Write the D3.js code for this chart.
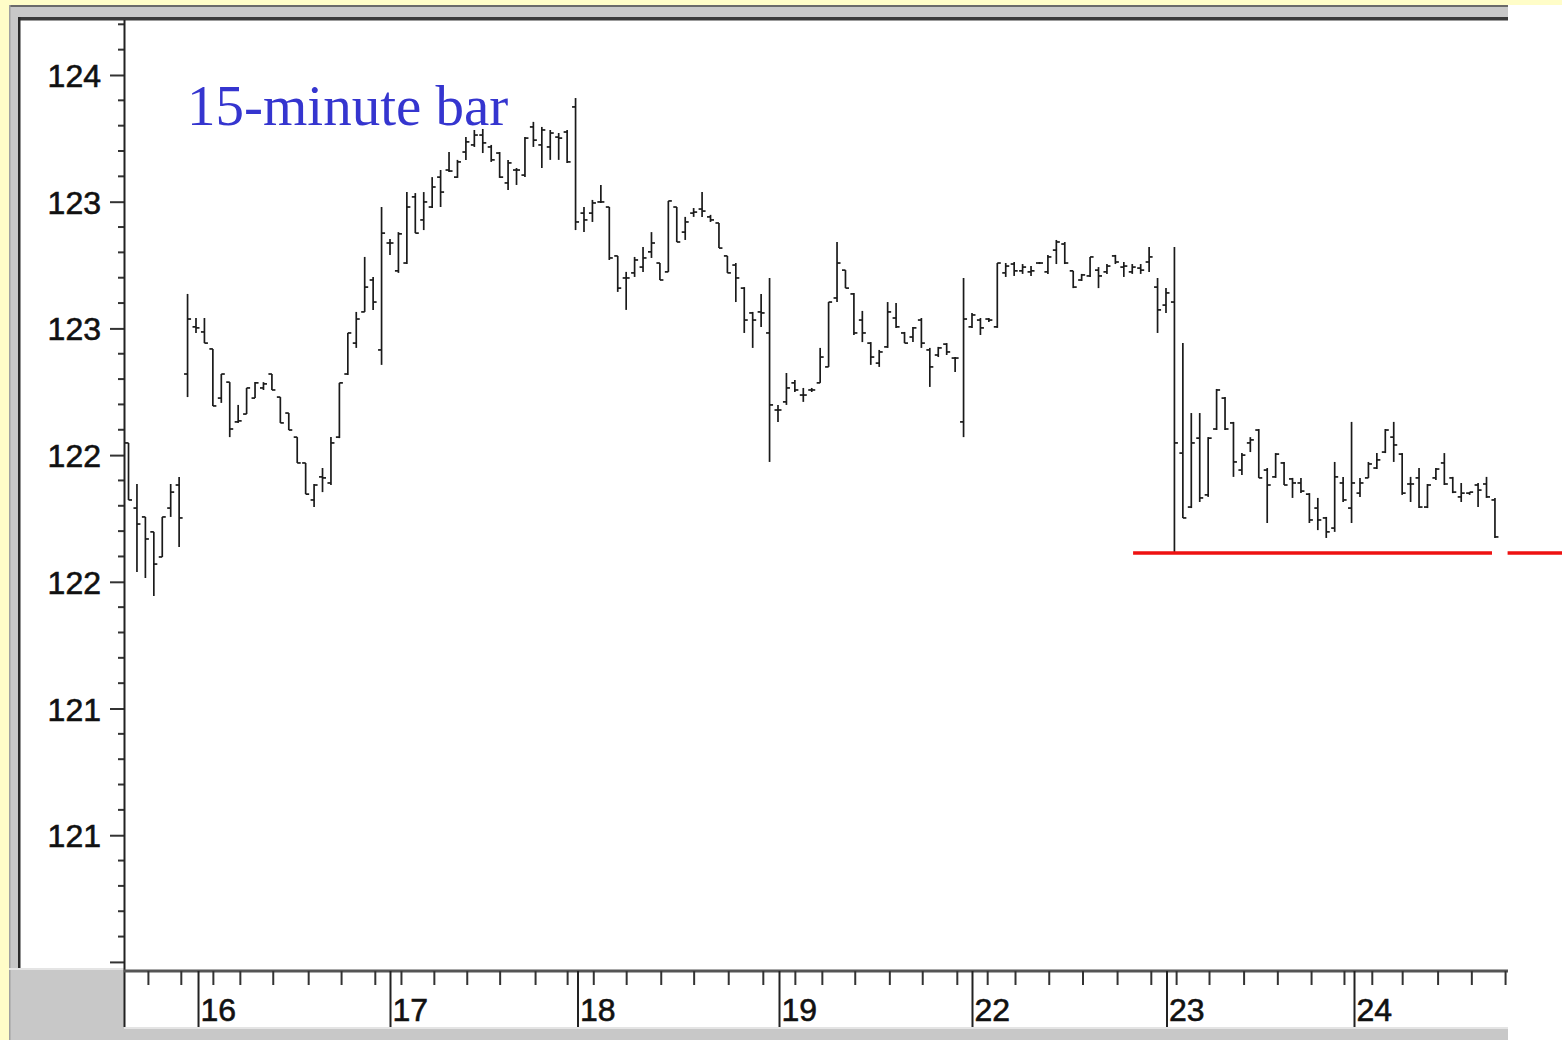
<!DOCTYPE html>
<html>
<head>
<meta charset="utf-8">
<script src="https://cdn.jsdelivr.net/npm/d3@7"></script>
<style>
  html, body { margin: 0; padding: 0; background: #ffffff; }
  svg { display: block; }
</style>
</head>
<body>
<svg id="chart" width="1562" height="1040"></svg>
<script>
// ---- Data: 15-minute OHLC bars, bar number 1..163 ----
const opens = [
  122.548,122.291,122.256,122.197,122.098,122.291,122.382,122.820,123.006,122.986,
  122.919,122.725,122.788,122.631,122.662,122.725,122.765,122.820,122.729,122.666,
  122.571,122.469,122.323,122.414,122.390,122.571,122.820,122.942,123.065,123.191,
  122.915,123.337,123.227,123.258,123.519,123.428,123.479,123.597,123.625,123.597,
  123.696,123.724,123.763,123.716,123.692,123.574,123.625,123.605,123.795,123.724,
  123.716,123.755,123.775,123.874,123.455,123.455,123.499,123.479,123.286,123.199,
  123.219,123.242,123.302,123.258,123.223,123.479,123.380,123.455,123.471,123.440,
  123.416,123.286,123.250,123.159,123.061,123.065,122.982,122.678,122.710,122.785,
  122.737,122.757,122.785,122.848,123.120,123.230,123.136,123.033,122.942,122.863,
  122.927,123.041,122.982,122.966,123.033,122.915,122.895,122.938,122.883,122.631,
  123.006,123.033,123.037,123.006,123.219,123.254,123.227,123.223,123.258,123.223,
  123.309,123.333,123.227,123.191,123.207,123.230,123.223,123.286,123.242,123.223,
  123.238,123.262,123.163,123.092,123.104,122.508,122.295,122.567,122.343,122.603,
  122.725,122.627,122.441,122.548,122.599,122.441,122.414,122.469,122.406,122.390,
  122.346,122.291,122.252,122.212,122.390,122.291,122.350,122.410,122.449,122.512,
  122.571,122.504,122.386,122.410,122.295,122.410,122.469,122.410,122.335,122.350,
  122.382,122.386,122.323
];
const highs = [
  122.548,122.386,122.256,122.197,122.256,122.386,122.414,123.136,123.041,123.041,
  122.919,122.820,122.788,122.698,122.765,122.788,122.788,122.820,122.729,122.666,
  122.571,122.469,122.386,122.449,122.571,122.785,122.982,123.065,123.282,123.203,
  123.479,123.353,123.380,123.538,123.534,123.538,123.597,123.625,123.696,123.665,
  123.755,123.783,123.787,123.724,123.696,123.665,123.633,123.755,123.815,123.795,
  123.783,123.771,123.783,123.909,123.479,123.507,123.566,123.479,123.286,123.223,
  123.282,123.321,123.380,123.258,123.503,123.479,123.440,123.475,123.538,123.448,
  123.416,123.286,123.258,123.163,123.065,123.136,123.199,122.698,122.824,122.796,
  122.765,122.765,122.923,123.104,123.341,123.230,123.140,123.069,122.946,122.915,
  123.104,123.100,122.986,123.006,123.041,122.923,122.927,122.942,122.887,123.199,
  123.061,123.041,123.041,123.258,123.258,123.262,123.254,123.246,123.262,123.290,
  123.349,123.341,123.227,123.215,123.282,123.242,123.254,123.290,123.262,123.254,
  123.254,123.321,123.199,123.159,123.321,122.942,122.666,122.666,122.571,122.761,
  122.729,122.631,122.508,122.571,122.603,122.449,122.508,122.473,122.410,122.410,
  122.350,122.331,122.256,122.473,122.414,122.631,122.410,122.473,122.508,122.603,
  122.631,122.508,122.414,122.449,122.386,122.449,122.508,122.414,122.390,122.354,
  122.390,122.414,122.331
];
const lows = [
  122.323,122.039,122.015,121.944,122.098,122.256,122.137,122.729,122.982,122.942,
  122.694,122.706,122.571,122.627,122.662,122.725,122.757,122.757,122.627,122.599,
  122.469,122.346,122.295,122.354,122.382,122.567,122.816,122.923,123.065,123.073,
  122.856,123.290,123.219,123.254,123.376,123.388,123.475,123.479,123.617,123.594,
  123.665,123.716,123.692,123.657,123.594,123.546,123.566,123.597,123.716,123.633,
  123.665,123.665,123.653,123.388,123.380,123.420,123.495,123.270,123.144,123.073,
  123.203,123.223,123.278,123.191,123.223,123.341,123.349,123.440,123.440,123.420,
  123.317,123.219,123.104,122.982,122.923,123.006,122.473,122.631,122.698,122.749,
  122.710,122.749,122.785,122.848,123.104,123.159,122.974,122.946,122.856,122.848,
  122.923,123.002,122.942,122.946,122.923,122.769,122.887,122.895,122.828,122.571,
  123.002,122.974,123.025,123.002,123.203,123.207,123.215,123.207,123.254,123.215,
  123.254,123.254,123.159,123.187,123.203,123.159,123.215,123.254,123.203,123.215,
  123.215,123.223,122.982,123.061,122.114,122.252,122.291,122.315,122.335,122.599,
  122.599,122.414,122.421,122.512,122.410,122.232,122.410,122.382,122.331,122.350,
  122.232,122.204,122.173,122.197,122.315,122.232,122.335,122.410,122.445,122.508,
  122.473,122.343,122.315,122.291,122.291,122.402,122.382,122.350,122.315,122.343,
  122.295,122.331,122.173
];
const closes = [
  122.323,122.228,122.169,122.070,122.256,122.354,122.252,123.037,123.002,122.942,
  122.694,122.820,122.603,122.635,122.765,122.785,122.781,122.757,122.627,122.599,
  122.469,122.346,122.382,122.410,122.548,122.785,122.982,123.037,123.163,123.104,
  123.376,123.337,123.373,123.479,123.376,123.499,123.558,123.538,123.621,123.657,
  123.736,123.763,123.732,123.665,123.597,123.653,123.625,123.751,123.743,123.783,
  123.771,123.751,123.657,123.420,123.428,123.495,123.499,123.278,123.159,123.199,
  123.270,123.278,123.337,123.191,123.503,123.341,123.420,123.459,123.463,123.428,
  123.317,123.219,123.199,123.033,123.033,123.061,122.698,122.678,122.765,122.757,
  122.737,122.757,122.887,123.104,123.258,123.159,122.982,122.982,122.887,122.907,
  123.065,123.006,122.942,123.002,122.942,122.848,122.923,122.907,122.883,123.037,
  123.053,123.002,123.033,123.258,123.246,123.227,123.242,123.227,123.258,123.282,
  123.341,123.258,123.163,123.211,123.282,123.207,123.246,123.262,123.246,123.242,
  123.230,123.282,123.073,123.140,122.548,122.252,122.548,122.331,122.567,122.757,
  122.603,122.473,122.500,122.560,122.410,122.382,122.504,122.382,122.390,122.358,
  122.244,122.244,122.197,122.414,122.323,122.390,122.390,122.465,122.481,122.599,
  122.540,122.350,122.386,122.295,122.382,122.445,122.386,122.354,122.350,122.354,
  122.362,122.335,122.177
];

// Session boundaries (in bar-number units) and their day labels
const days = ["16", "17", "18", "19", "22", "23", "24"];
const dayStarts = [9.24, 32.0, 54.23, 78.12, 101.0, 124.06, 146.29];

// Hourly tick marks (bar-number units)
const hourTicks = [
  3.3, 7.2, 11, 14.2, 18.1, 22.3, 26.2, 30.2, 33.3, 37.2, 41.1, 45, 49.2, 53,
  56.1, 60, 64.1, 68, 72.1, 76.2, 80, 83.2, 87.1, 91.2, 95.1, 99.2, 102.8,
  106.1, 110.1, 114.1, 118.2, 122.2, 125.2, 129.1, 133.2, 137.2, 141.2, 145.1,
  148.4, 152, 156.2, 160.2, 164.2
];

// Price axis: major ticks and their (truncated) labels
const yTickValues = [124, 123.5, 123, 122.5, 122, 121.5, 121, 120.5];
const yTickLabels = ["124", "123", "123", "122", "122", "121", "121", ""];

// Support level at the low of the bar-125 sell-off
const supportLevel = 122.114;
const supportSpans = [[120.1, 162.65], [164.5, 171]];

const titleText = "15-minute bar";

// ---- Drawing ----
const bars = opens.map((o, i) => ({
  n: i + 1, open: o, high: highs[i], low: lows[i], close: closes[i]
}));

const svg = d3.select("#chart");
const W = 1562, H = 1040;

// Window frame: pale yellow surround, grey bevel and white panel
svg.append("rect").attr("width", W).attr("height", H).attr("fill", "#ffffff");
svg.append("rect").attr("x", 0).attr("y", 0).attr("width", W).attr("height", 5).attr("fill", "#fffdc8");
svg.append("rect").attr("x", 0).attr("y", 0).attr("width", 9).attr("height", H).attr("fill", "#fffdc8");
svg.append("rect").attr("x", 9).attr("y", 5).attr("width", 1499).attr("height", H - 5).attr("fill", "#c8c8c8");
svg.append("rect").attr("x", 9).attr("y", 5).attr("width", 1499).attr("height", 2).attr("fill", "#6a6a6a");
svg.append("rect").attr("x", 9).attr("y", 5).attr("width", 1.5).attr("height", H - 5).attr("fill", "#a0a0a0");
svg.append("rect").attr("x", 20).attr("y", 20).attr("width", 1488).attr("height", 948).attr("fill", "#ffffff");
svg.append("rect").attr("x", 124).attr("y", 968).attr("width", 1384).attr("height", 59).attr("fill", "#ffffff");
svg.append("rect").attr("x", 9).attr("y", 968).attr("width", 115).attr("height", 2).attr("fill", "#e4e4e4");
svg.append("rect").attr("x", 124).attr("y", 1027).attr("width", 1384).attr("height", 2).attr("fill", "#e4e4e4");
// dark inner border (top and left)
svg.append("rect").attr("x", 18).attr("y", 17).attr("width", 1490).attr("height", 3.5).attr("fill", "#3a3a3a");
svg.append("rect").attr("x", 18).attr("y", 17).attr("width", 2.5).attr("height", 951).attr("fill", "#2a2a2a");

// Scales
const x = d3.scaleLinear().domain([0.5, 164.5]).range([124.3, 1507.6]);
const y = d3.scaleLinear().domain([120.476, 124.217]).range([968, 20]);

const labelFont = "'Liberation Sans', Arial, sans-serif";

// Price axis
const yAxis = svg.append("g").attr("transform", "translate(124,0)")
  .call(d3.axisLeft(y).tickValues(yTickValues)
    .tickFormat((d, i) => yTickLabels[i]).tickSize(14).tickPadding(9));
yAxis.select(".domain").remove();
yAxis.selectAll(".tick line").attr("stroke", "#333").attr("stroke-width", 2);
yAxis.selectAll(".tick text")
  .attr("font-family", labelFont)
  .attr("font-size", 32).attr("fill", "#111")
  .attr("stroke", "#111").attr("stroke-width", 0.6)
  .attr("dy", "0.36em");

// minor price ticks every 0.1
svg.append("g").selectAll("line")
  .data(y.ticks(40).filter(v => !yTickValues.some(t => Math.abs(t - v) < 1e-6)))
  .join("line")
  .attr("x1", 118).attr("x2", 124)
  .attr("y1", d => y(d)).attr("y2", d => y(d))
  .attr("stroke", "#333").attr("stroke-width", 2);

// vertical axis line runs down through the date strip
svg.append("line").attr("x1", 124.5).attr("x2", 124.5).attr("y1", 20).attr("y2", 1027)
  .attr("stroke", "#222").attr("stroke-width", 2);

// Time axis
const axisY = 971;
svg.append("line").attr("x1", 124).attr("x2", 1508).attr("y1", axisY).attr("y2", axisY)
  .attr("stroke", "#555").attr("stroke-width", 3);

const hourAxis = svg.append("g").attr("transform", `translate(0,${axisY})`)
  .call(d3.axisBottom(x).tickValues(hourTicks).tickFormat("").tickSize(14));
hourAxis.select(".domain").remove();
hourAxis.selectAll(".tick line").attr("stroke", "#333").attr("stroke-width", 2);

const dayAxis = svg.append("g").attr("transform", `translate(0,${axisY})`)
  .call(d3.axisBottom(x).tickValues(dayStarts).tickFormat((d, i) => days[i]).tickSize(56));
dayAxis.select(".domain").remove();
dayAxis.selectAll(".tick line").attr("stroke", "#222").attr("stroke-width", 2);
dayAxis.selectAll(".tick text")
  .attr("font-family", labelFont)
  .attr("font-size", 32).attr("fill", "#111")
  .attr("stroke", "#111").attr("stroke-width", 0.6)
  .attr("text-anchor", "start").attr("x", 2).attr("y", 50).attr("dy", 0);

// Title
svg.append("text").attr("x", 187).attr("y", 125)
  .attr("font-family", "'Liberation Serif', 'Times New Roman', serif")
  .attr("font-size", 57).attr("fill", "#3535cf")
  .text(titleText);

// OHLC bars
const barG = svg.append("g").attr("stroke", "#1a1a1a").attr("stroke-width", 1.7);
const bg = barG.selectAll("g.bar").data(bars).join("g").attr("class", "bar");
bg.append("line")
  .attr("x1", d => x(d.n)).attr("x2", d => x(d.n))
  .attr("y1", d => y(d.high)).attr("y2", d => y(d.low));
bg.append("line")
  .attr("x1", d => x(d.n) - 3.5).attr("x2", d => x(d.n))
  .attr("y1", d => y(d.open)).attr("y2", d => y(d.open));
bg.append("line")
  .attr("x1", d => x(d.n)).attr("x2", d => x(d.n) + 3.5)
  .attr("y1", d => y(d.close)).attr("y2", d => y(d.close));

// Support line
svg.append("g").selectAll("line").data(supportSpans).join("line")
  .attr("x1", d => x(d[0])).attr("x2", d => x(d[1]))
  .attr("y1", y(supportLevel)).attr("y2", y(supportLevel))
  .attr("stroke", "#ee1111").attr("stroke-width", 3.5);
</script>
</body>
</html>
